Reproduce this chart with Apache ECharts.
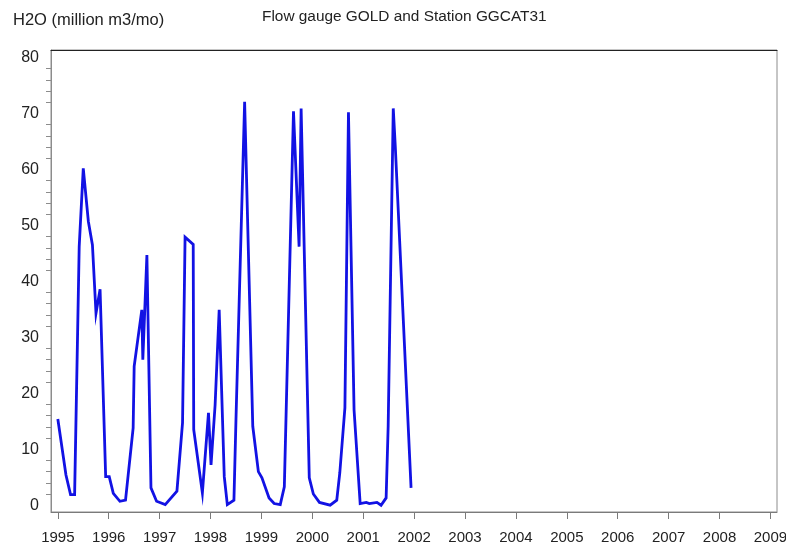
<!DOCTYPE html>
<html>
<head>
<meta charset="utf-8">
<script src="https://cdn.jsdelivr.net/npm/echarts@6/dist/echarts.min.js"></script>
<style>
  html, body { margin: 0; padding: 0; background: #fff; }
  #chart { width: 786px; height: 551px; }
</style>
</head>
<body>
<div id="chart"></div>
<script>
// Monthly flow at gauge GOLD / station GGCAT31, decimal year vs. million m3 per month
const times = [
  1995.00, 1995.16, 1995.25, 1995.33, 1995.42, 1995.50, 1995.60, 1995.68, 1995.75, 1995.83,
  1995.94, 1996.01, 1996.09, 1996.22, 1996.33, 1996.48, 1996.50, 1996.65, 1996.67, 1996.75,
  1996.83, 1996.94, 1997.11, 1997.34, 1997.45, 1997.50, 1997.66, 1997.67, 1997.84, 1997.96,
  1998.01, 1998.09, 1998.17, 1998.27, 1998.33, 1998.46, 1998.50, 1998.67, 1998.83, 1998.94,
  1999.01, 1999.15, 1999.25, 1999.37, 1999.45, 1999.63, 1999.74, 1999.78, 1999.94, 2000.02,
  2000.14, 2000.35, 2000.48, 2000.54, 2000.64, 2000.71, 2000.82, 2000.94, 2001.06, 2001.12,
  2001.27, 2001.35, 2001.45, 2001.49, 2001.59, 2001.63, 2001.94
];
const flow = [
  15.4, 5.4, 1.9, 1.9, 46.2, 60.2, 50.7, 46.5, 34.3, 38.6,
  5.1, 5.1, 2.1, 0.7, 0.9, 13.8, 24.8, 34.9, 26.0, 44.7,
  3.1, 0.7, 0.1, 2.5, 14.7, 47.9, 46.6, 13.5, 2.2, 16.5,
  7.2, 17.9, 34.9, 5.1, 0.1, 0.9, 15.3, 72.1, 14.1, 6.0,
  4.9, 1.3, 0.3, 0.1, 3.3, 70.4, 46.2, 70.9, 4.9, 2.0,
  0.5, 0.0, 0.9, 5.8, 17.4, 70.2, 17.0, 0.3, 0.5, 0.3,
  0.5, 0.0, 1.3, 14.1, 70.9, 64.1, 3.1
];

// Axis labels and tick positions
const yearTicks = [1995, 1996, 1997, 1998, 1999, 2000, 2001, 2002, 2003, 2004, 2005, 2006, 2007, 2008, 2009];
const yLabels = [0, 10, 20, 30, 40, 50, 60, 70, 80];
const yMinorTicks = [2, 4, 6, 8, 12, 14, 16, 18, 22, 24, 26, 28, 32, 34, 36, 38,
  42, 44, 46, 48, 52, 54, 56, 58, 62, 64, 66, 68, 72, 74, 76, 78];

const seriesData = times.map((t, i) => [t, flow[i]]);

const FONT = '"Liberation Sans", Arial, sans-serif';
const chart = echarts.init(document.getElementById('chart'), null, { renderer: 'canvas' });

chart.setOption({
  animation: false,
  backgroundColor: '#ffffff',
  title: [
    {
      text: 'H2O (million m3/mo)',
      left: 13, top: 12, padding: 0,
      textStyle: { fontFamily: FONT, fontSize: 16.5, fontWeight: 'normal', color: '#222' }
    },
    {
      text: 'Flow gauge GOLD and Station GGCAT31',
      left: 262, top: 9, padding: 0,
      textStyle: { fontFamily: FONT, fontSize: 15.4, fontWeight: 'normal', color: '#222' }
    }
  ],
  grid: {
    left: 51, right: 9, top: 50, bottom: 39,
    containLabel: false,
    outerBoundsMode: 'none',
    show: true, borderColor: '#8c8c8c', borderWidth: 1, backgroundColor: 'transparent'
  },
  xAxis: [
    {
      type: 'value',
      min: 1994.866, max: 2009.129,
      splitLine: { show: false },
      axisLine: { show: true, onZero: false, lineStyle: { color: '#7a7a7a', width: 1 } },
      axisTick: { show: true, customValues: yearTicks, length: 7, lineStyle: { color: '#7a7a7a' } },
      axisLabel: {
        customValues: yearTicks, margin: 18, hideOverlap: false,
        fontFamily: FONT, fontSize: 15, color: '#222',
        formatter: v => String(Math.round(v))
      }
    },
    {
      type: 'value', position: 'top',
      min: 1994.866, max: 2009.129,
      splitLine: { show: false },
      axisLine: { show: true, onZero: false, lineStyle: { color: '#222', width: 1 } },
      axisTick: { show: false },
      axisLabel: { show: false }
    }
  ],
  yAxis: {
    type: 'value',
    min: -1.215, max: 81.34,
    splitLine: { show: false },
    axisLine: { show: true, onZero: false, lineStyle: { color: '#8c8c8c', width: 1 } },
    axisTick: { show: true, customValues: yMinorTicks, length: 5, lineStyle: { color: '#8c8c8c' } },
    axisLabel: {
      customValues: yLabels, margin: 12,
      fontFamily: FONT, fontSize: 16, color: '#222'
    }
  },
  series: [
    {
      type: 'line',
      xAxisIndex: 0,
      data: seriesData,
      showSymbol: false,
      symbol: 'none',
      lineStyle: { color: '#1212e4', width: 2.8, join: 'miter' },
      clip: true
    }
  ]
});
</script>
</body>
</html>
